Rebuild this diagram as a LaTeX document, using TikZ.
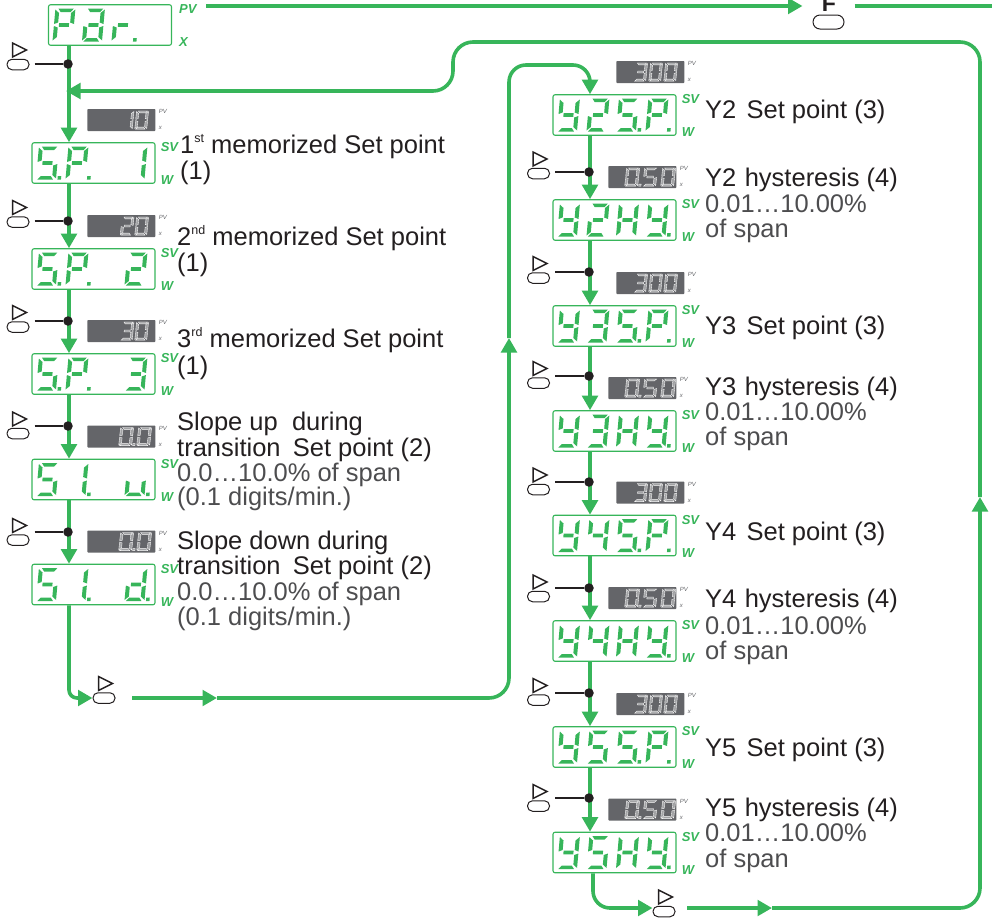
\documentclass[tikz,border=0pt]{standalone}
\usepackage{fontspec}
\setmainfont{Liberation Sans}
\usetikzlibrary{positioning,arrows.meta}

\definecolor{lcdgreen}{HTML}{37B55A}
\definecolor{lcdgrey}{HTML}{646569}
\definecolor{notedark}{HTML}{231F20}
\definecolor{notegrey}{HTML}{4D4D4F}

% Segments of one digit, centre at the origin
\def\sega{(-7,-16.5) -- (8.5,-16.5) -- (5.5,-13) -- (-4.5,-13) -- cycle}
\def\segb{(10,-15.5) -- (6,-12) -- (6,-2.5) -- (10,-1) -- cycle}
\def\segc{(10,1) -- (6,2.5) -- (6,12) -- (10,15.5) -- cycle}
\def\segd{(-8.5,16.5) -- (7,16.5) -- (4.5,13) -- (-5.5,13) -- cycle}
\def\sege{(-10,1) -- (-6,2.5) -- (-6,12) -- (-10,15.5) -- cycle}
\def\segf{(-10,-15.5) -- (-6,-12) -- (-6,-2.5) -- (-10,-1) -- cycle}
\def\segg{(-5,-1.8) -- (5,-1.8) -- (5,1.8) -- (-5,1.8) -- cycle}
\def\segh{(11.5,13) -- (15,13) -- (15,16.5) -- (11.5,16.5) -- cycle}
\def\segn{}

% Glyphs as lists of segments
\expandafter\def\csname glyphP\endcsname{a,b,e,f,g}
\expandafter\def\csname glypha\endcsname{a,b,c,d,e,g}
\expandafter\def\csname glyphr\endcsname{e,g}
\expandafter\def\csname glyphS\endcsname{a,c,d,f,g}
\expandafter\def\csname glyphu\endcsname{c,d,e}
\expandafter\def\csname glyphd\endcsname{b,c,d,e,g}
\expandafter\def\csname glyphy\endcsname{b,c,d,f,g}
\expandafter\def\csname glyphH\endcsname{b,c,e,f,g}
\expandafter\def\csname glyph0\endcsname{a,b,c,d,e,f}
\expandafter\def\csname glyph1\endcsname{b,c}
\expandafter\def\csname glyph2\endcsname{a,b,d,e,g}
\expandafter\def\csname glyph3\endcsname{a,b,c,d,g}
\expandafter\def\csname glyph4\endcsname{b,c,f,g}
\expandafter\def\csname glyph5\endcsname{a,c,d,f,g}
\expandafter\def\csname glyphn\endcsname{n}

% node, first offset, pitch, xscale, yscale, style, glyphs
\newcommand{\segrow}[7]{
  \foreach \glyph/\dotmark [count=\ipos from 0] in {#7} {
    \begin{scope}[shift={(#1.west)}, xshift={#2+\ipos*#3}, xscale=#4, yscale=#5, xslant=0.09]
      \edef\seglist{\csname glyph\glyph\endcsname}
      \foreach \s in \seglist {
        \expandafter\let\expandafter\segpath\csname seg\s\endcsname
        \path[#6] \segpath;
      }
      \expandafter\let\expandafter\segpath\csname seg\dotmark\endcsname
      \path[#6] \segpath;
    \end{scope}
  }
}

% name, placement, glyphs
\newcommand{\display}[3]{
  \node[disp, #2] (#1) {};
  \segrow{#1}{16}{29.5}{1}{1}{seggreen}{#3}
}

% name of a display
\newcommand{\svmarks}[1]{
  \node[svmark] (#1sv) at ([xshift=5pt, yshift=-5pt]#1.north east) {SV};
  \node[svmark] (#1w) at ([xshift=5pt, yshift=3.5pt]#1.south east) {W};
}

% name, placement, first offset, pitch, xscale, glyphs
\newcommand{\valuebox}[6]{
  \node[valbox, #2] (#1) {};
  \node[pvmark] (#1pv) at ([xshift=3pt, yshift=-3pt]#1.north east) {PV};
  \node[pvmark] (#1x) at ([xshift=3pt, yshift=3pt]#1.south east) {x};
  \segrow{#1}{#3}{#4}{#5}{.55}{segwhite}{#6}
}

% name, x, y
\newcommand{\keybtn}[3]{
  \node[keyoval] (#1) at (#2,#3) {};
  \draw[keytri] ([shift={(-5.5,-21.5)}]#1.center) -- ++(0,14) -- ++(14,-7) -- cycle;
}

\newcommand{\supmark}[1]{\raisebox{0.42em}{\fontsize{12.5}{12.5}\selectfont #1}}

\begin{document}
\begin{tikzpicture}[x=1pt, y=-1pt, >={Triangle[length=14.5pt,width=15.5pt]}]
  % Define styles
  \tikzstyle{disp}=[rectangle, draw=lcdgreen, line width=1.1pt, rounded corners=2pt, minimum width=123pt, minimum height=40.5pt, inner sep=0pt]
  \tikzstyle{valbox}=[rectangle, fill=lcdgrey, rounded corners=0.8pt, minimum width=68pt, minimum height=22pt, inner sep=0pt]
  \tikzstyle{seggreen}=[fill=lcdgreen]
  \tikzstyle{segwhite}=[draw=white, line width=0.35pt, fill=lcdgrey!60!white]
  \tikzstyle{svmark}=[anchor=west, inner sep=0pt, text=lcdgreen, font=\fontsize{13}{13}\selectfont\bfseries\itshape]
  \tikzstyle{pvmark}=[anchor=west, inner sep=0pt, text=lcdgrey, font=\fontsize{6}{6}\selectfont\itshape]
  \tikzstyle{flow}=[draw=lcdgreen, line width=3.6pt]
  \tikzstyle{keyoval}=[rectangle, draw=notedark, line width=1pt, rounded corners=5pt, minimum width=22pt, minimum height=10.5pt, inner sep=0pt]
  \tikzstyle{keytri}=[draw=notedark, line width=1.5pt, line join=miter]
  \tikzstyle{keyline}=[draw=notedark, line width=1.7pt, shorten <=5pt]
  \tikzstyle{keydot}=[circle, fill=notedark, minimum size=9.5pt, inner sep=0pt]
  \tikzstyle{note}=[anchor=base west, inner sep=0pt, text=notedark, font=\fontsize{25.5}{27}\selectfont]
  \tikzstyle{notesub}=[note, text=notegrey]

  \useasboundingbox (0,0) rectangle (992,919);

  % Left column
  \display{par}{at={(110,25)}}{P/n,a/n,r/h}
  \node[svmark] (parpv) at (179,9) {PV};
  \node[svmark] (parx) at (179,42) {X};
  \display{sp1}{at={(93.5,163)}}{S/h,P/h,n/n,1/n}
  \display{sp2}{below=64.4pt of sp1}{S/h,P/h,n/n,2/n}
  \display{sp3}{below=63.4pt of sp2}{S/h,P/h,n/n,3/n}
  \display{slu}{below=63.9pt of sp3}{S/n,1/h,n/n,u/h}
  \display{sld}{below=63.4pt of slu}{S/n,1/h,n/n,d/h}

  % Right column
  \display{y2sp}{at={(614.5,115)}}{y/n,2/n,S/h,P/h}
  \display{y2hy}{below=63.4pt of y2sp}{y/n,2/n,H/n,y/h}
  \display{y3sp}{below=64.4pt of y2hy}{y/n,3/n,S/h,P/h}
  \display{y3hy}{below=63.4pt of y3sp}{y/n,3/n,H/n,y/h}
  \display{y4sp}{below=62.9pt of y3hy}{y/n,4/n,S/h,P/h}
  \display{y4hy}{below=63.9pt of y4sp}{y/n,4/n,H/n,y/h}
  \display{y5sp}{below=64.4pt of y4hy}{y/n,5/n,S/h,P/h}
  \display{y5hy}{below=63.9pt of y5sp}{y/n,5/n,H/n,y/h}
  \foreach \a in {sp1,sp2,sp3,slu,sld,y2sp,y2hy,y3sp,y3hy,y4sp,y4hy,y5sp,y5hy} {
    \svmarks{\a}
  }

  % Values above the displays
  \valuebox{val1}{above=11pt of sp1.north east, anchor=south east}{40}{14.5}{.6}{1/n,0/n}
  \valuebox{val2}{above=11pt of sp2.north east, anchor=south east}{40}{14.5}{.6}{2/n,0/n}
  \valuebox{val3}{above=11pt of sp3.north east, anchor=south east}{40}{14.5}{.6}{3/n,0/n}
  \valuebox{val4}{above=11pt of slu.north east, anchor=south east}{39}{18}{.65}{0/h,0/n}
  \valuebox{val5}{above=11pt of sld.north east, anchor=south east}{39}{18}{.65}{0/h,0/n}
  \foreach \a/\b in {y2sp/y2hy, y3sp/y3hy, y4sp/y4hy, y5sp/y5hy} {
    \valuebox{set\a}{above=11pt of \a.north east, anchor=south east, xshift=8pt}{24.5}{15}{.6}{3/n,0/n,0/n}
    \valuebox{hys\b}{above=11pt of \b.north east, anchor=south east}{24}{18}{.65}{0/h,5/n,0/n}
  }

  % Free ends
  \coordinate (leftcol) at (69,0);
  \coordinate (rightcol) at (590,0);
  \coordinate (rightexit) at (593,0);
  \coordinate (topstart) at (206,6);
  \coordinate (topend) at (992,6);
  \coordinate (leftbase) at (132,698);
  \coordinate (leftmid) at (217,698);
  \coordinate (riserleft) at (509,338);
  \coordinate (riserturn) at (590,65);
  \coordinate (rightbase) at (687,908);
  \coordinate (rightmid) at (772,908);
  \coordinate (riserright) at (980,497);
  \coordinate (looptop) at (980,42);
  \coordinate (loopstep) at (453,91);
  \coordinate (loopin) at (66,91);

  % Keys
  \node[font=\fontsize{23}{23}\selectfont\bfseries, text=notedark, anchor=base, inner sep=0pt] (fchar) at (829,11) {F};
  \node[keyoval, minimum width=31pt, minimum height=14pt, rounded corners=7pt] (fkey) at (828.5,22) {};
  \keybtn{keyl}{104}{698}
  \keybtn{keyr}{664}{911.5}

  % Transitions
  \foreach \a/\b in {par/sp1, sp1/sp2, sp2/sp3, sp3/slu, slu/sld} {
    \draw[flow, ->] (\a.south -| leftcol) -- (\b.north -| leftcol);
  }
  \foreach \a/\b in {y2sp/y2hy, y2hy/y3sp, y3sp/y3hy, y3hy/y4sp, y4sp/y4hy, y4hy/y5sp, y5sp/y5hy} {
    \draw[flow, ->] (\a.south -| rightcol) -- (\b.north -| rightcol);
  }
  \draw[flow, ->, shorten >=10pt] (topstart) -- (fkey.west |- topstart);
  \draw[flow, shorten <=10pt] (fkey.east |- topstart) -- (topend);
  \draw[flow, ->, rounded corners=8pt] (sld.south -| leftcol) |- (keyl.west |- leftbase);
  \draw[flow, ->] (leftbase) -- (leftmid);
  \draw[flow, ->, rounded corners=20pt] (leftmid) -| (riserleft);
  \draw[flow, ->, rounded corners=17pt] (riserleft) |- (riserturn) -- (y2sp.north -| rightcol);
  \draw[flow, ->, rounded corners=17pt] (y5hy.south -| rightexit) |- (keyr.west |- rightbase);
  \draw[flow, ->] (rightbase) -- (rightmid);
  \draw[flow, ->, rounded corners=20pt] (rightmid) -| (riserright);
  \draw[flow, ->, rounded corners=20pt] (riserright) |- (looptop -| loopstep) -- (loopstep) -- (loopin);

  % Key lines
  \foreach \n/\ky/\ly in {a/64.5/64, b/222/221, c/327/321, d/433.5/426, e/540/532} {
    \keybtn{lkey\n}{18}{\ky}
    \node[keydot] (ldot\n) at (68,\ly) {};
    \draw[keyline] (lkey\n.east |- ldot\n) -- (ldot\n);
  }
  \foreach \n/\ky/\ly in {a/173.5/172, b/278/272, c/383/376, d/489.5/482, e/596.5/588, f/700/693, g/806/798} {
    \keybtn{rkey\n}{538.5}{\ky}
    \node[keydot] (rdot\n) at (589,\ly) {};
    \draw[keyline] (rkey\n.east |- rdot\n) -- (rdot\n);
  }

  % Notes
  \foreach \n/\x/\y/\t in {a/180/153/{1\supmark{st} memorized Set point}, b/180/179/(1),
      c/177/245/{2\supmark{nd} memorized Set point}, d/177/271/(1),
      e/177/347/{3\supmark{rd} memorized Set point}, f/177/374/(1),
      g/177/430/{Slope up\ \ during}, h/177/456/{transition\hspace{0.48em}Set point (2)},
      i/177/549/{Slope down during}, j/177/574/{transition\hspace{0.48em}Set point (2)},
      k/705/118/{Y2\hspace{0.4em}Set point (3)}, l/705/186/{Y2\hspace{0.33em}hysteresis (4)},
      m/705/334/{Y3\hspace{0.4em}Set point (3)}, n/705/395/{Y3\hspace{0.33em}hysteresis (4)},
      o/705/540.5/{Y4\hspace{0.4em}Set point (3)}, p/705/607.5/{Y4\hspace{0.33em}hysteresis (4)},
      q/705/756/{Y5\hspace{0.4em}Set point (3)}, r/705/816/{Y5\hspace{0.33em}hysteresis (4)}} {
    \node[note] (note\n) at (\x,\y) {\t};
  }
  \foreach \n/\x/\y/\t in {a/177/481/{0.0…10.0\% of span}, b/177/505/{(0.1 digits/min.)},
      c/177/600/{0.0…10.0\% of span}, d/177/625/{(0.1 digits/min.)},
      e/705/212/{0.01…10.00\%}, f/705/237/of span,
      g/705/420/{0.01…10.00\%}, h/705/445/of span,
      i/705/634/{0.01…10.00\%}, j/705/659/of span,
      k/705/841/{0.01…10.00\%}, l/705/867/of span} {
    \node[notesub] (sub\n) at (\x,\y) {\t};
  }
\end{tikzpicture}
\end{document}
